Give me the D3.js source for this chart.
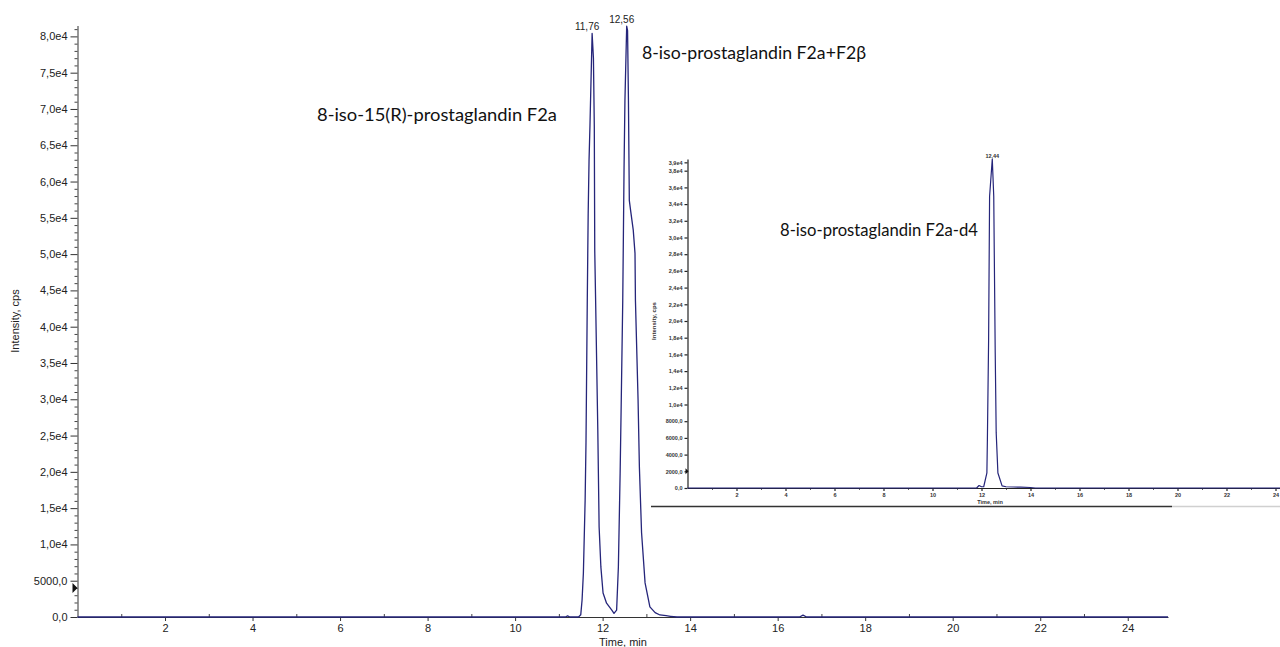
<!DOCTYPE html>
<html>
<head>
<meta charset="utf-8">
<script src="https://cdn.jsdelivr.net/npm/d3@7"></script>
<style>
  body { margin: 0; background: #fff; }
  svg { display: block; }
</style>
</head>
<body>
<div id="chart"></div>
<script>
// ---- data ----
// main XIC: 8-iso-15(R)-PGF2a and 8-iso-PGF2a+F2b
const mainTime = [0, 11.0, 11.15, 11.2, 11.25, 11.45, 11.50, 11.53, 11.56, 11.60, 11.62, 11.65, 11.67, 11.69, 11.71,
  11.76, 11.79, 11.81, 11.82, 11.84, 11.89, 11.92, 11.96, 12.01, 12.09, 12.21, 12.26, 12.32, 12.36, 12.40, 12.42,
  12.46, 12.49, 12.51, 12.55, 12.57, 12.59, 12.61, 12.64, 12.70, 12.74, 12.75, 12.81, 12.84, 12.89, 12.97, 13.08,
  13.2, 13.31, 13.45, 13.55, 13.7, 16.5, 16.58, 16.66, 24.92];
const mainIntensity = [0, 0, 0, 150, 0, 0, 300, 2300, 6000, 16000, 24000, 44000, 55600, 63000, 67500,
  80400, 77000, 67500, 50500, 43600, 25700, 12400, 6900, 3300, 1900, 960, 500, 960, 6900, 19800, 27500,
  43600, 62000, 71200, 81400, 80800, 71200, 57400, 56000, 53300, 50100, 43600, 29900, 20700, 11600, 4700, 1400,
  600, 280, 180, 100, 0, 0, 250, 0, 0];
const mainPeakTimes = [11.76, 12.55];
const mainPeakValues = [80400, 81400];
const mainPeakLabels = ["11,76", "12,56"];

// inset XIC: internal standard 8-iso-PGF2a-d4
const insetTime = [0, 11.8, 11.9, 12.0, 12.09, 12.22, 12.24, 12.29, 12.33, 12.44, 12.50, 12.56, 12.60, 12.67, 12.84,
  13.0, 13.3, 13.6, 14.0, 14.2, 24.9];
const insetIntensity = [0, 0, 300, 150, 150, 1800, 5700, 17700, 34900, 39400, 34900, 16200, 6600, 1800, 250,
  150, 120, 100, 60, 0, 0];
const insetPeakTime = 12.44, insetPeakLabel = "12,44";

// axes
const mainXTicks = [2, 4, 6, 8, 10, 12, 14, 16, 18, 20, 22, 24];
const mainYTicks = [0, 5000, 10000, 15000, 20000, 25000, 30000, 35000, 40000, 45000, 50000, 55000, 60000, 65000, 70000, 75000, 80000];
const insetYTicks = [0, 2000, 4000, 6000, 8000, 10000, 12000, 14000, 16000, 18000, 20000, 22000, 24000, 26000, 28000,
  30000, 32000, 34000, 36000, 38000, 39000];
const insetXTicks = mainXTicks;

const annotations = [
  { text: "8-iso-15(R)-prostaglandin F2a", x: 317, y: 121, w: 240 },
  { text: "8-iso-prostaglandin F2a+F2β", x: 642, y: 59, w: 224 },
  { text: "8-iso-prostaglandin F2a-d4", x: 780, y: 236, w: 198 }
];

// ---- drawing ----
const width = 1280, height = 647;
const lineColor = "#25257a";
const axisFont = "'Liberation Sans', Arial, sans-serif";

const svg = d3.select("#chart").append("svg")
  .attr("width", width)
  .attr("height", height)
  .attr("viewBox", [0, 0, width, height]);

// comma decimal, like the instrument software
const fmt = d => d === 0 ? "0,0" : d < 10000 ? d + ",0" : (d / 10000).toFixed(1).replace(".", ",") + "e4";

// ----- main chart -----
let x = d3.scaleLinear().domain([0, 24.92]).range([77.5, 1168]);
let y = d3.scaleLinear().domain([0, 81500]).range([617, 25.5]);

// minor ticks first so the major ones sit on top
svg.append("g")
  .attr("transform", `translate(${x(0)},0)`)
  .call(d3.axisLeft(y).tickValues(d3.range(1000, 81001, 1000).filter(d => d % 5000)).tickSize(3).tickFormat(""))
  .call(g => g.select(".domain").remove())
  .call(g => g.selectAll("line").attr("stroke", "#444"));

svg.append("g")
  .attr("transform", `translate(0,${y(0)})`)
  .call(d3.axisBottom(x).tickValues(d3.range(1, 25, 2)).tickSize(-3).tickFormat(""))
  .call(g => g.select(".domain").remove())
  .call(g => g.selectAll("line").attr("stroke", "#444"));

svg.append("g")
  .attr("class", "y-axis")
  .attr("transform", `translate(${x(0)},0)`)
  .call(d3.axisLeft(y).tickValues(mainYTicks).tickFormat(fmt).tickSize(7).tickPadding(3).tickSizeOuter(0))
  .call(g => g.selectAll("text").attr("font-family", axisFont).attr("font-size", 11).attr("fill", "#222"))
  .call(g => g.selectAll("path, line").attr("stroke", "#333"));

svg.append("g")
  .attr("class", "x-axis")
  .attr("transform", `translate(0,${y(0)})`)
  .call(d3.axisBottom(x).tickValues(mainXTicks).tickSize(4).tickPadding(3).tickSizeOuter(0))
  .call(g => g.selectAll("text").attr("font-family", axisFont).attr("font-size", 11).attr("fill", "#222"))
  .call(g => g.selectAll("path, line").attr("stroke", "#333"));

svg.append("text")
  .attr("x", 623).attr("y", 645.5)
  .attr("text-anchor", "middle")
  .attr("font-family", axisFont).attr("font-size", 11).attr("fill", "#222")
  .text("Time, min");

svg.append("text")
  .attr("transform", "translate(19,321) rotate(-90)")
  .attr("text-anchor", "middle")
  .attr("font-family", axisFont).attr("font-size", 11).attr("fill", "#222")
  .text("Intensity, cps");

// threshold marker on the y axis
svg.append("path")
  .attr("d", `M${x(0) - 5},${y(4000) - 5}L${x(0)},${y(4000)}L${x(0) - 5},${y(4000) + 5}Z`)
  .attr("fill", "#111");

const mainLine = d3.line()
  .x((d, i) => x(mainTime[i]))
  .y(d => y(d));

svg.append("path")
  .datum(mainIntensity)
  .attr("fill", "none")
  .attr("stroke", lineColor)
  .attr("stroke-width", 1.3)
  .attr("stroke-linejoin", "round")
  .attr("d", mainLine);

svg.append("g")
  .selectAll("text")
  .data(mainPeakLabels)
  .join("text")
  .attr("x", (d, i) => x(mainPeakTimes[i]) - 5)
  .attr("y", (d, i) => y(mainPeakValues[i]) - 3)
  .attr("text-anchor", "middle")
  .attr("font-family", axisFont).attr("font-size", 10).attr("fill", "#222")
  .text(d => d);

// ----- inset chart -----
let ix = d3.scaleLinear().domain([0, 24.9]).range([687.5, 687.5 + 24.9 * 24.5]);
let iy = d3.scaleLinear().domain([0, 39400]).range([488, 159]);
const smallFont = g => g.selectAll("text")
  .attr("font-family", axisFont).attr("font-size", 5.5).attr("font-weight", "bold").attr("fill", "#333");

svg.append("g")
  .attr("transform", `translate(0,${iy(0)})`)
  .call(d3.axisBottom(ix).tickValues(d3.range(1, 25, 2)).tickSize(2).tickFormat(""))
  .call(g => g.select(".domain").remove())
  .call(g => g.selectAll("line").attr("stroke", "#666"));

svg.append("g")
  .attr("transform", `translate(${ix(0)},0)`)
  .call(d3.axisLeft(iy).tickValues(insetYTicks).tickFormat(fmt).tickSize(3).tickPadding(2).tickSizeOuter(0))
  .call(smallFont)
  .call(g => g.selectAll("path, line").attr("stroke", "#222").attr("stroke-width", 1.2));

svg.append("g")
  .attr("transform", `translate(0,${iy(0)})`)
  .call(d3.axisBottom(ix).tickValues(insetXTicks).tickSize(3).tickPadding(2).tickSizeOuter(0))
  .call(smallFont)
  .call(g => g.selectAll("path, line").attr("stroke", "#222").attr("stroke-width", 1.2));

svg.append("text")
  .attr("x", 990).attr("y", 504)
  .attr("text-anchor", "middle")
  .attr("font-family", axisFont).attr("font-size", 5.5).attr("font-weight", "bold").attr("fill", "#333")
  .text("Time, min");

svg.append("text")
  .attr("transform", "translate(656,321) rotate(-90)")
  .attr("text-anchor", "middle")
  .attr("font-family", axisFont).attr("font-size", 6).attr("font-weight", "bold").attr("fill", "#333")
  .text("Intensity, cps");

svg.append("path")
  .attr("d", `M${ix(0) - 2},${iy(2000) - 3}L${ix(0) + 1},${iy(2000)}L${ix(0) - 2},${iy(2000) + 3}Z`)
  .attr("fill", "#111");

// frame line under the inset
svg.append("line")
  .attr("x1", 651).attr("x2", 1172).attr("y1", 506.5).attr("y2", 506.5)
  .attr("stroke", "#333").attr("stroke-width", 1.3);
svg.append("line")
  .attr("x1", 1172).attr("x2", 1280).attr("y1", 506.5).attr("y2", 506.5)
  .attr("stroke", "#d0d0d0").attr("stroke-width", 1.3);

const insetLine = d3.line()
  .x((d, i) => ix(insetTime[i]))
  .y(d => iy(d));

svg.append("path")
  .datum(insetIntensity)
  .attr("fill", "none")
  .attr("stroke", lineColor)
  .attr("stroke-width", 1.2)
  .attr("stroke-linejoin", "round")
  .attr("d", insetLine);

svg.append("text")
  .attr("x", ix(insetPeakTime)).attr("y", iy(39400) - 1.5)
  .attr("text-anchor", "middle")
  .attr("font-family", axisFont).attr("font-size", 5.5).attr("font-weight", "bold").attr("fill", "#333")
  .text(insetPeakLabel);

// compound names
svg.append("g")
  .selectAll("text")
  .data(annotations)
  .join("text")
  .attr("x", d => d.x)
  .attr("y", d => d.y)
  .attr("font-family", "Lato, 'Open Sans', sans-serif")
  .attr("font-size", 17)
  .attr("fill", "#111")
  .attr("textLength", d => d.w)
  .attr("lengthAdjust", "spacingAndGlyphs")
  .text(d => d.text);
</script>
</body>
</html>
